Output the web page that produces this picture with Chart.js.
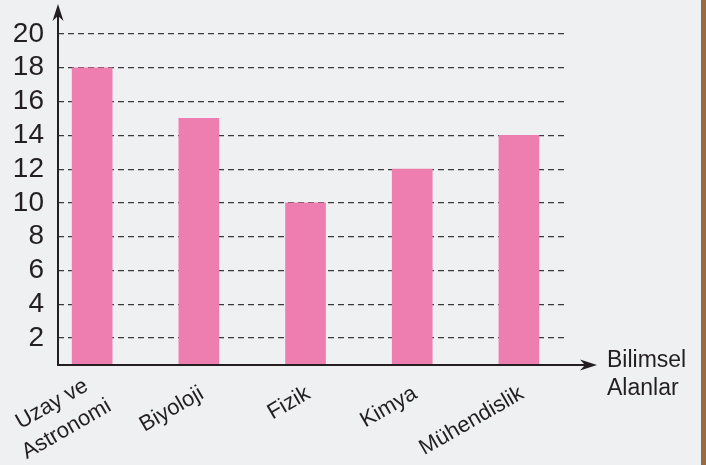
<!DOCTYPE html>
<html>
<head>
<meta charset="utf-8">
<script src="https://cdn.jsdelivr.net/npm/chart.js@4.4.0/dist/chart.umd.min.js"></script>
<style>
body { margin: 0; background: #9a6a40; }
#wrap { width: 701px; height: 465px; background: #eff0f2; }
</style>
</head>
<body>
<div id="wrap"><canvas id="chart" width="701" height="465"></canvas></div>
<script>
// data
var categories = [['Uzay ve', 'Astronomi'], 'Biyoloji', 'Fizik', 'Kimya', 'Mühendislik'];
var values = [18, 15, 10, 12, 14];
var yTicks = [2, 4, 6, 8, 10, 12, 14, 16, 18, 20];
var axisTitle = ['Bilimsel', 'Alanlar'];

var ink = '#231f20';
var fontFamily = '"Liberation Sans", Arial, Helvetica, sans-serif';

// axis lines with arrows, category labels, axis title
var axesPlugin = {
    id: 'axes',
    afterDatasetsDraw: function (chart) {
        var ctx = chart.ctx, a = chart.chartArea, xs = chart.scales.x;
        var x0 = a.left, y0 = a.bottom;
        var xEnd = a.right + 29, yEnd = a.top - 30;
        ctx.save();
        ctx.strokeStyle = ink;
        ctx.fillStyle = ink;
        ctx.lineWidth = 2;
        ctx.beginPath();
        ctx.moveTo(x0, yEnd + 10);
        ctx.lineTo(x0, y0);
        ctx.lineTo(xEnd - 10, y0);
        ctx.stroke();

        //fleche haut
        ctx.beginPath();
        ctx.moveTo(x0, yEnd);
        ctx.lineTo(x0 + 5.5, yEnd + 17);
        ctx.lineTo(x0, yEnd + 12);
        ctx.lineTo(x0 - 5.5, yEnd + 17);
        ctx.closePath();
        ctx.fill();

        //fleche droite
        ctx.beginPath();
        ctx.moveTo(xEnd, y0);
        ctx.lineTo(xEnd - 17, y0 - 5.5);
        ctx.lineTo(xEnd - 12, y0);
        ctx.lineTo(xEnd - 17, y0 + 5.5);
        ctx.closePath();
        ctx.fill();

        //labels inclines, lignes centrees
        var lineH = 29;
        ctx.font = '22px ' + fontFamily;
        ctx.textAlign = 'right';
        ctx.textBaseline = 'middle';
        categories.forEach(function (c, i) {
            var lines = Array.isArray(c) ? c : [c];
            var widths = lines.map(function (l) { return ctx.measureText(l).width; });
            var wMax = Math.max.apply(null, widths);
            ctx.save();
            ctx.translate(xs.getPixelForValue(i) + 3 + (lines.length - 1) * 7, xs.top + 27);
            ctx.rotate(-30 * Math.PI / 180);
            lines.forEach(function (l, j) {
                ctx.fillText(l, -(wMax - widths[j]) / 2, (j - (lines.length - 1) / 2) * lineH);
            });
            ctx.restore();
        });

        ctx.font = '23px ' + fontFamily;
        ctx.textAlign = 'left';
        ctx.textBaseline = 'alphabetic';
        ctx.fillText(axisTitle[0], xEnd + 10, y0 + 2);
        ctx.fillText(axisTitle[1], xEnd + 10, y0 + 30);
        ctx.restore();
    }
};

var ctxB = document.getElementById('chart').getContext('2d');
var myBarChart = new Chart(ctxB, {
    type: 'bar',
    data: {
        datasets: [{
            data: values.map(function (v, i) { return { x: i, y: v }; }),
            backgroundColor: '#ef7eb0',
            borderWidth: 0,
            barThickness: 40
        }]
    },
    options: {
        responsive: false,
        animation: false,
        layout: { padding: { top: 34, right: 133, left: 0, bottom: 0 } },
        plugins: { legend: { display: false }, tooltip: { enabled: false } },
        scales: {
            x: {
                type: 'linear',
                min: -0.32,
                max: 4.46,
                offset: false,
                afterBuildTicks: function (s) {
                    s.ticks = categories.map(function (c, i) { return { value: i }; });
                },
                afterFit: function (s) {
                    s.height = 100;
                    s.paddingLeft = 0;
                    s.paddingRight = 0;
                },
                grid: { display: false, offset: false },
                border: { display: false },
                ticks: { display: false }
            },
            y: {
                min: 0.4,
                max: 20,
                afterBuildTicks: function (s) {
                    s.ticks = yTicks.map(function (v) { return { value: v }; });
                },
                afterFit: function (s) { s.width = 58; },
                grid: { color: '#3a3a3a', lineWidth: 1.2, drawTicks: false },
                border: { display: false, dash: [6, 4] },
                ticks: {
                    padding: 14,
                    color: ink,
                    font: { size: 28, family: fontFamily }
                }
            }
        }
    },
    plugins: [axesPlugin]
});
</script>
</body>
</html>
